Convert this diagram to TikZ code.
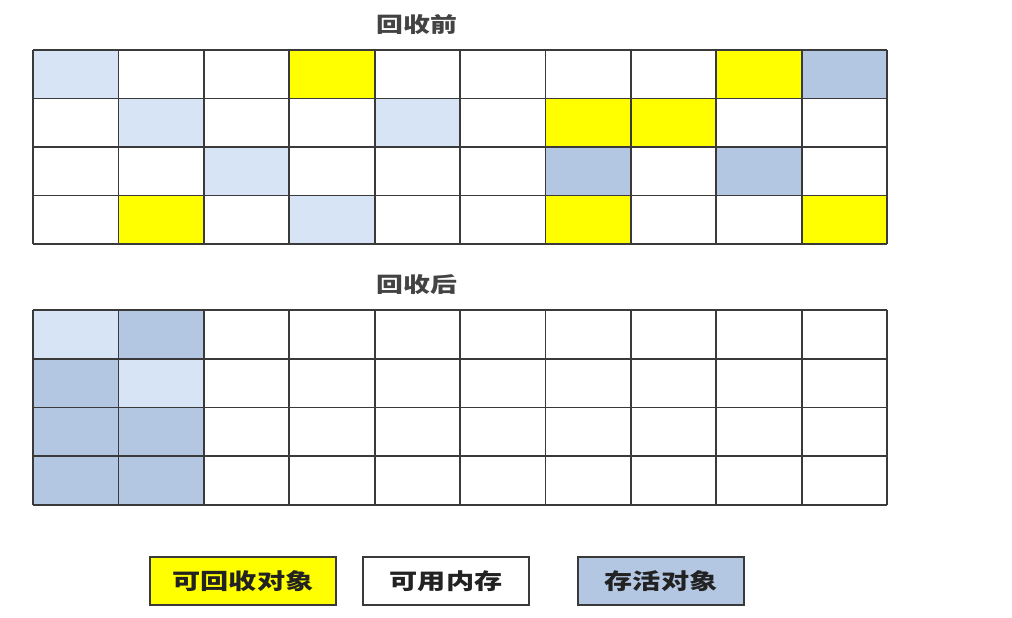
\documentclass[tikz,border=0pt]{standalone}
\usepackage{fontspec}
\newfontfamily\cjk{Noto Sans CJK SC}
\definecolor{lb}{HTML}{D7E4F5}
\definecolor{db}{HTML}{B3C7E3}
\definecolor{yl}{HTML}{FFFF00}
\definecolor{ln}{HTML}{3A3A3A}
\definecolor{tx}{HTML}{222222}
\tikzset{
  gridline/.style={draw=ln,line width=1.8pt},
  title/.style={font=\cjk\bfseries\fontsize{21}{24}\selectfont, text=tx!85!white, inner sep=0pt},
  legend/.style={draw=ln, line width=1.6pt, minimum height=48pt, inner sep=0pt,
                 font=\cjk\bfseries\fontsize{22}{24}\selectfont, text=tx}
}
\newcommand{\wide}[1]{\scalebox{1.28}[1]{#1}}
\begin{document}
\begin{tikzpicture}[x=1pt,y=-1pt]
\useasboundingbox (0,0) rectangle (1012,618);
\fill[white] (0,0) rectangle (1012,618);
% top grid
\foreach \r/\c/\col in {0/0/lb,0/3/yl,0/8/yl,0/9/db,1/1/lb,1/4/lb,1/6/yl,1/7/yl,2/2/lb,2/6/db,2/8/db,3/1/yl,3/3/lb,3/6/yl,3/9/yl}
  \fill[\col] ({33+\c*85.4},{50+\r*48.5}) rectangle +(85.4,48.5);
\foreach \i in {0,...,10}
  \draw[gridline] ({33+\i*85.4},50) -- ({33+\i*85.4},244);
\foreach \j in {0,...,4}
  \draw[gridline] (33,{50+\j*48.5}) -- (887,{50+\j*48.5});
% bottom grid
\foreach \r/\c/\col in {0/0/lb,0/1/db,1/0/db,1/1/lb,2/0/db,2/1/db,3/0/db,3/1/db}
  \fill[\col] ({33+\c*85.4},{310+\r*48.75}) rectangle +(85.4,48.75);
\foreach \i in {0,...,10}
  \draw[gridline] ({33+\i*85.4},310) -- ({33+\i*85.4},505);
\foreach \j in {0,...,4}
  \draw[gridline] (33,{310+\j*48.75}) -- (887,{310+\j*48.75});
% titles
\node[title] (t1) at (417,25) {\wide{回收前}};
\node[title] (t2) at (417,285) {\wide{回收后}};
% legend
\node[legend, fill=yl, minimum width=186pt] (l1) at (243,581) {\wide{可回收对象}};
\node[legend, fill=white, minimum width=166pt] (l2) at (446,581) {\wide{可用内存}};
\node[legend, fill=db, minimum width=166pt] (l3) at (661,581) {\wide{存活对象}};
\end{tikzpicture}
\end{document}
